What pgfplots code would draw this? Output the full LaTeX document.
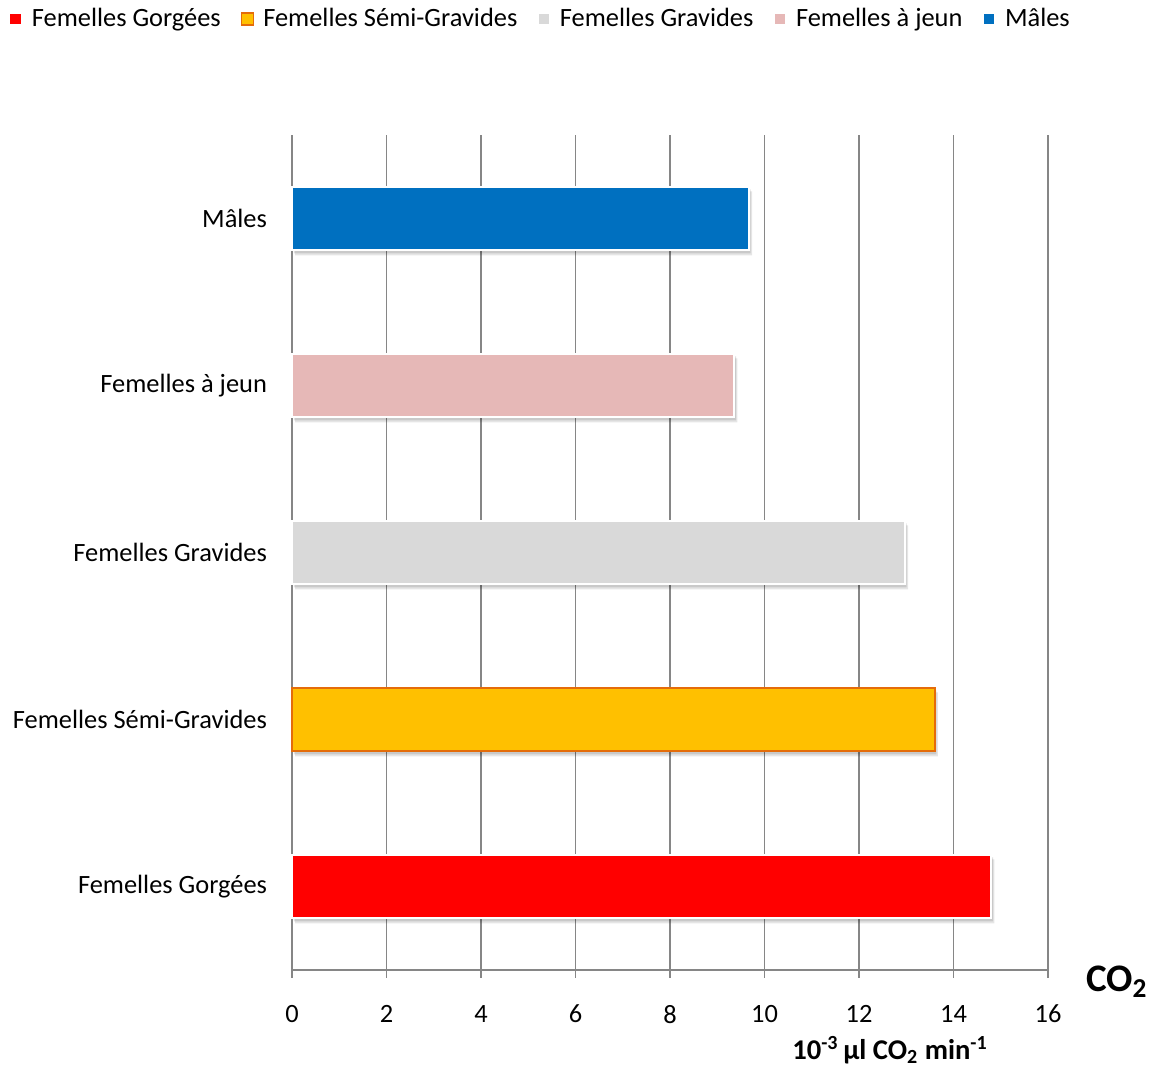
\documentclass[border=0pt]{standalone}
\usepackage{pgfplots}
\pgfplotsset{compat=1.18}
\usepackage{fontspec}
\setmainfont{Carlito}

\definecolor{gorge}{RGB}{255,0,0}
\definecolor{semi}{RGB}{255,192,0}
\definecolor{semiedge}{RGB}{228,108,10}
\definecolor{grav}{RGB}{217,217,217}
\definecolor{jeun}{RGB}{230,184,183}
\definecolor{male}{RGB}{0,112,192}
\definecolor{gridgray}{RGB}{134,134,134}

% CO2 release per group (10^-3 microlitre CO2 per minute); cat = row position
\pgfplotstableread{
cat value
0 14.80
1 13.60
2 12.97
3 9.36
4 9.67
}\codeux

\begin{document}
\begin{tikzpicture}
\path[use as bounding box] (0pt,0pt) rectangle (579pt,533pt);
\begin{axis}[
  at={(146pt,48pt)}, anchor=south west,
  scale only axis, width=378pt, height=417.5pt,
  xmin=0, xmax=16, ymin=-0.5, ymax=4.5,
  xtick={0,2,...,16},
  ytick={0,...,4},
  yticklabels={Femelles Gorgées, Femelles Sémi-Gravides, Femelles Gravides, Femelles à jeun, Mâles},
  minor ytick={-0.5,0.5,...,4.5},
  axis x line*=bottom, axis y line*=left,
  axis line style={-, gridgray, line width=0.9pt},
  tick align=outside,
  major tick length=4pt,
  ytick style={draw=none},
  minor tick length=4pt,
  minor tick style={gridgray, line width=0.9pt},
  xtick style={gridgray, line width=0.9pt},
  xmajorgrids,
  major grid style={gridgray, line width=0.9pt},
  /pgf/number format/assume math mode=true,
  tick label style={font=\fontsize{13.2}{15}\selectfont, black},
  yticklabel style={xshift=-5pt},
  xticklabel style={yshift=-10pt},
  xbar, bar shift=0pt, bar width=0.383,
  clip=false,
  legend columns=5,
  legend cell align=left,
  legend style={at={(-0.3745,1.139)}, anchor=west, draw=none, inner sep=0pt,
    font=\fontsize{13.2}{15}\selectfont,
    /tikz/every even column/.append style={column sep=8pt}},
  legend image code/.code={\draw[#1, line width=0.6pt] (0pt,-3pt) rectangle (6pt,3pt);
    \path[draw=none, fill=none] (9pt,0pt);},
]
% soft shadow behind the bars
\addplot[forget plot, fill=black, draw=none, opacity=0.10, xshift=1.6pt, yshift=-2.4pt] table[x=value, y=cat] {\codeux};
\addplot[forget plot, fill=black, draw=none, opacity=0.12, xshift=0.9pt, yshift=-1.4pt] table[x=value, y=cat] {\codeux};

\addplot[fill=gorge, draw=white, line width=1pt] table[x=value, y=cat, skip coords between index={1}{5}] {\codeux};
\addlegendentry{Femelles Gorgées}
\addplot[fill=semi, draw=semiedge, line width=1pt] table[x=value, y=cat, skip coords between index={0}{1}, skip coords between index={2}{5}] {\codeux};
\addlegendentry{Femelles Sémi-Gravides}
\addplot[fill=grav, draw=white, line width=1pt] table[x=value, y=cat, skip coords between index={0}{2}, skip coords between index={3}{5}] {\codeux};
\addlegendentry{Femelles Gravides}
\addplot[fill=jeun, draw=white, line width=1pt] table[x=value, y=cat, skip coords between index={0}{3}, skip coords between index={4}{5}] {\codeux};
\addlegendentry{Femelles à jeun}
\addplot[fill=male, draw=white, line width=1pt] table[x=value, y=cat, skip coords between index={0}{4}] {\codeux};
\addlegendentry{Mâles}

\node[font=\bfseries\fontsize{14.3}{16}\selectfont, anchor=center]
  at (axis description cs:0.791,-0.0958)
  {10\textsuperscript{-3}\,µl CO\textsubscript{2} min\textsuperscript{-1}};
\node[font=\bfseries\fontsize{19.5}{22}\selectfont, anchor=center]
  at (axis description cs:1.091,-0.014) {CO\textsubscript{2}};
\end{axis}
\end{tikzpicture}
\end{document}
